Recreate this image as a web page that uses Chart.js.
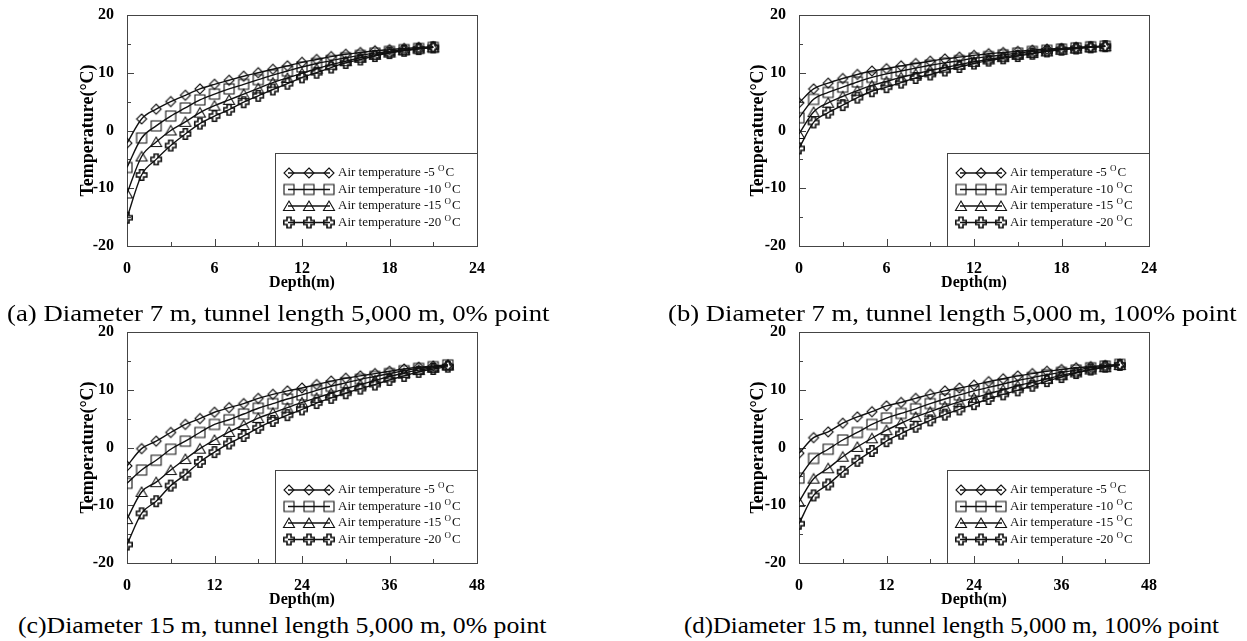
<!DOCTYPE html>
<html>
<head>
<meta charset="utf-8">
<script src="https://cdn.jsdelivr.net/npm/chart.js@4.4.1/dist/chart.umd.min.js"></script>
<style>
  html, body { margin: 0; padding: 0; background: #fff; }
  body { width: 1247px; height: 641px; position: relative; overflow: hidden; }
  canvas { position: absolute; }
  .caption {
    position: absolute;
    font-family: "Liberation Serif", "Times New Roman", serif;
    font-size: 24px;
    line-height: 1;
    color: #000;
    white-space: nowrap;
    transform-origin: 0 0;
  }
</style>
</head>
<body>
<canvas id="chart-a" width="430" height="292" style="left:60px;top:0px"></canvas>
<canvas id="chart-b" width="432" height="292" style="left:730px;top:0px"></canvas>
<canvas id="chart-c" width="430" height="292" style="left:60px;top:317px"></canvas>
<canvas id="chart-d" width="432" height="292" style="left:730px;top:317px"></canvas>

<div class="caption" data-w="543" style="left:7px;top:301px">(a) Diameter 7 m, tunnel length 5,000 m, 0% point</div>
<div class="caption" data-w="569" style="left:668px;top:301px">(b) Diameter 7 m, tunnel length 5,000 m, 100% point</div>
<div class="caption" data-w="529" style="left:18px;top:613px">(c)Diameter 15 m, tunnel length 5,000 m, 0% point</div>
<div class="caption" data-w="535" style="left:684px;top:613px">(d)Diameter 15 m, tunnel length 5,000 m, 100% point</div>

<script>
// Depth points (m)
const depthShort = [0, 1, 2, 3, 4, 5, 6, 7, 8, 9, 10, 11, 12, 13, 14, 15, 16, 17, 18, 19, 20, 21];
const depthLong = [0, 2, 4, 6, 8, 10, 12, 14, 16, 18, 20, 22, 24, 26, 28, 30, 32, 34, 36, 38, 40, 42, 44];

// Air temperature cases (deg C)
const airTemps = ["-5", "-10", "-15", "-20"];

// (a) Diameter 7 m, 0% point
const a5 = [-2.2, 2.0, 3.7, 5.0, 6.1, 7.2, 8.0, 8.7, 9.4, 10.0, 10.6, 11.2, 11.8, 12.3, 12.8, 13.2, 13.5, 13.8, 14.0, 14.2, 14.4, 14.5];
const a10 = [-6.4, -1.3, 0.8, 2.5, 3.9, 5.3, 6.3, 7.2, 8.0, 8.8, 9.6, 10.3, 11.0, 11.6, 12.1, 12.6, 13.0, 13.4, 13.7, 14.0, 14.2, 14.4];
const a15 = [-10.9, -4.5, -2.0, 0.0, 1.5, 3.1, 4.3, 5.3, 6.3, 7.3, 8.3, 9.1, 9.9, 10.7, 11.4, 12.0, 12.6, 13.1, 13.5, 13.9, 14.2, 14.4];
const a20 = [-15.1, -7.7, -5.0, -2.6, -0.6, 1.2, 2.5, 3.6, 4.9, 6.0, 7.1, 8.1, 9.2, 10.0, 10.9, 11.7, 12.3, 12.9, 13.4, 13.8, 14.1, 14.4];

// (b) Diameter 7 m, 100% point
const b5 = [4.8, 7.2, 8.2, 9.0, 9.7, 10.3, 10.7, 11.2, 11.6, 12.0, 12.4, 12.7, 13.0, 13.3, 13.5, 13.7, 13.9, 14.1, 14.2, 14.4, 14.5, 14.6];
const b10 = [2.2, 5.4, 6.6, 7.5, 8.4, 9.2, 9.8, 10.3, 10.8, 11.3, 11.7, 12.1, 12.5, 12.8, 13.1, 13.4, 13.7, 13.9, 14.1, 14.3, 14.5, 14.6];
const b15 = [-0.6, 3.2, 4.8, 5.9, 6.9, 7.8, 8.5, 9.2, 9.8, 10.4, 10.9, 11.4, 11.9, 12.3, 12.7, 13.1, 13.4, 13.7, 14.0, 14.2, 14.4, 14.6];
const b20 = [-3.1, 1.4, 3.1, 4.4, 5.7, 6.8, 7.5, 8.3, 9.1, 9.7, 10.4, 11.0, 11.6, 12.1, 12.5, 12.9, 13.3, 13.7, 14.0, 14.2, 14.4, 14.6];

// (c) Diameter 15 m, 0% point
const c5 = [-3.2, -0.2, 1.1, 2.6, 4.0, 5.0, 6.1, 6.9, 7.6, 8.5, 9.2, 9.8, 10.3, 10.9, 11.5, 12.0, 12.4, 12.8, 13.2, 13.6, 13.9, 14.1, 14.3];
const c10 = [-6.2, -3.9, -2.2, -0.3, 1.1, 2.6, 4.0, 4.8, 5.8, 6.8, 7.6, 8.4, 9.1, 9.9, 10.6, 11.2, 11.8, 12.3, 12.8, 13.3, 13.7, 14.0, 14.3];
const c15 = [-12.4, -7.7, -6.0, -3.9, -2.0, -0.2, 1.3, 2.7, 3.9, 5.1, 6.0, 6.9, 7.8, 8.6, 9.4, 10.2, 10.9, 11.6, 12.3, 12.9, 13.4, 13.8, 14.2];
const c20 = [-16.8, -11.4, -9.3, -6.6, -4.7, -2.5, -0.8, 0.7, 2.0, 3.4, 4.6, 5.6, 6.6, 7.7, 8.6, 9.4, 10.2, 10.9, 11.7, 12.4, 13.1, 13.6, 14.0];

// (d) Diameter 15 m, 100% point
const d5 = [-1.0, 1.7, 2.7, 4.2, 5.3, 6.2, 7.2, 7.8, 8.5, 9.2, 9.8, 10.3, 10.8, 11.4, 11.9, 12.4, 12.8, 13.2, 13.5, 13.8, 14.0, 14.2, 14.4];
const d10 = [-5.3, -1.9, -0.3, 1.3, 2.6, 4.0, 5.1, 5.9, 6.7, 7.6, 8.4, 9.1, 9.8, 10.4, 11.0, 11.6, 12.1, 12.6, 13.0, 13.4, 13.8, 14.1, 14.4];
const d15 = [-9.4, -5.4, -3.6, -1.6, 0.1, 1.6, 3.0, 4.2, 5.3, 6.2, 7.1, 7.9, 8.6, 9.3, 10.0, 10.7, 11.3, 11.9, 12.5, 13.0, 13.5, 13.9, 14.3];
const d20 = [-13.2, -8.3, -6.4, -4.2, -2.3, -0.6, 1.1, 2.4, 3.6, 4.7, 5.7, 6.6, 7.5, 8.4, 9.2, 9.9, 10.7, 11.5, 12.2, 12.9, 13.5, 14.0, 14.3];

const serif = "'Liberation Serif', 'Times New Roman', serif";
const tickFont = { family: serif, size: 16, weight: "bold" };

// Hollow marker shapes drawn once into small canvases
function makeMarker(kind) {
  const c = document.createElement("canvas");
  c.width = 14;
  c.height = 14;
  const g = c.getContext("2d");
  const m = 7;
  g.strokeStyle = "#111";
  g.lineWidth = 1.1;
  g.beginPath();
  if (kind === "diamond") {
    g.moveTo(m, m - 5); g.lineTo(m + 5, m); g.lineTo(m, m + 5); g.lineTo(m - 5, m);
  } else if (kind === "square") {
    g.rect(m - 5, m - 5, 10, 10);
  } else if (kind === "triangle") {
    g.moveTo(m, m - 5); g.lineTo(m + 5.5, m + 4.5); g.lineTo(m - 5.5, m + 4.5);
  } else {
    g.lineWidth = 1.6;
    const a = 2, b = 5.2;
    const pts = [[-a, -b], [a, -b], [a, -a], [b, -a], [b, a], [a, a], [a, b], [-a, b], [-a, a], [-b, a], [-b, -a], [-a, -a]];
    pts.forEach(([px, py], i) => (i ? g.lineTo(m + px, m + py) : g.moveTo(m + px, m + py)));
  }
  g.closePath();
  g.stroke();
  return c;
}
const markers = [makeMarker("diamond"), makeMarker("square"), makeMarker("triangle"), makeMarker("cross")];

// Frame around the plot plus inward major/minor ticks
const frameTicks = {
  id: "frameTicks",
  beforeDatasetsDraw(chart) {
    const { ctx, chartArea: a, scales } = chart;
    ctx.save();
    ctx.strokeStyle = "#444";
    ctx.lineWidth = 1;
    ctx.strokeRect(Math.round(a.left) + 0.5, Math.round(a.top) + 0.5, Math.round(a.right - a.left), Math.round(a.bottom - a.top));
    const xs = scales.x, ys = scales.y;
    const xStep = xs.options.ticks.stepSize / 2;
    ctx.beginPath();
    for (let i = 1; xs.min + i * xStep < xs.max; i++) {
      const px = Math.round(xs.getPixelForValue(xs.min + i * xStep)) + 0.5;
      const len = i % 2 === 0 ? 7 : 4;
      ctx.moveTo(px, a.bottom);
      ctx.lineTo(px, a.bottom - len);
    }
    const yStep = ys.options.ticks.stepSize / 2;
    for (let i = 1; ys.min + i * yStep < ys.max; i++) {
      const py = Math.round(ys.getPixelForValue(ys.min + i * yStep)) + 0.5;
      const len = i % 2 === 0 ? 7 : 4;
      ctx.moveTo(a.left, py);
      ctx.lineTo(a.left + len, py);
    }
    ctx.stroke();
    ctx.restore();
  },
};

// Boxed legend in the lower right, with superscript "O" before C
const airLegend = {
  id: "airLegend",
  afterDraw(chart) {
    const { ctx, chartArea: a } = chart;
    const boxL = Math.round(a.right - 202);
    const boxT = Math.round(a.top + 138);
    ctx.save();
    ctx.strokeStyle = "#444";
    ctx.lineWidth = 1;
    ctx.strokeRect(boxL + 0.5, boxT + 0.5, Math.round(a.right) - boxL, Math.round(a.bottom) - boxT);
    chart.data.datasets.forEach((ds, i) => {
      const y = boxT + 20 + i * 16.5;
      const x0 = boxL + 13;
      ctx.strokeStyle = "#111";
      ctx.lineWidth = 1.3;
      ctx.beginPath();
      ctx.moveTo(x0, y);
      ctx.lineTo(x0 + 42, y);
      ctx.stroke();
      [x0 + 1, x0 + 21, x0 + 41].forEach((mx) => {
        ctx.drawImage(markers[i], mx - 7, y - 7);
      });
      const tx = x0 + 50;
      ctx.fillStyle = "#111";
      ctx.textBaseline = "middle";
      ctx.font = "13px " + serif;
      const main = "Air temperature " + airTemps[i] + " ";
      ctx.fillText(main, tx, y);
      const w1 = ctx.measureText(main).width;
      ctx.font = "9px " + serif;
      ctx.fillText("O", tx + w1, y - 4);
      const w2 = ctx.measureText("O").width;
      ctx.font = "13px " + serif;
      ctx.fillText("C", tx + w1 + w2 + 1, y);
    });
    ctx.restore();
  },
};

function buildChart(id, depth, series, xMax, yAxisWidth) {
  const ctx = document.getElementById(id).getContext("2d");
  return new Chart(ctx, {
    type: "line",
    data: {
      datasets: series.map((vals, i) => ({
        label: "Air temperature " + airTemps[i] + " °C",
        data: vals.map((v, j) => ({ x: depth[j], y: v })),
        borderColor: "#111",
        borderWidth: 1.4,
        pointStyle: markers[i],
        pointRadius: 6,
        cubicInterpolationMode: "monotone",
        fill: false,
      })),
    },
    options: {
      responsive: false,
      animation: false,
      layout: { padding: { left: 18, top: 15, right: 11, bottom: 0 } },
      plugins: { legend: { display: false }, tooltip: { enabled: false } },
      scales: {
        x: {
          type: "linear",
          min: 0,
          max: xMax,
          ticks: { stepSize: xMax / 4, padding: 5, color: "#000", font: tickFont },
          grid: { display: false },
          border: { display: false },
          title: { display: true, text: "Depth(m)", color: "#000", padding: 0, font: { family: serif, size: 16, weight: "bold" } },
          afterFit: (s) => { s.height = 46; },
        },
        y: {
          min: -20,
          max: 20,
          ticks: { stepSize: 10, padding: 5, color: "#000", font: tickFont },
          grid: { display: false },
          border: { display: false },
          title: { display: true, text: "Temperature(°C)", color: "#000", padding: 0, font: { family: serif, size: 18, weight: "bold" } },
          afterFit: (s) => { s.width = yAxisWidth; },
        },
      },
    },
    plugins: [frameTicks, airLegend],
  });
}

buildChart("chart-a", depthShort, [a5, a10, a15, a20], 24, 49);
buildChart("chart-b", depthShort, [b5, b10, b15, b20], 24, 51);
buildChart("chart-c", depthLong, [c5, c10, c15, c20], 48, 49);
buildChart("chart-d", depthLong, [d5, d10, d15, d20], 48, 51);

// Stretch captions to the width they take in the figure
document.querySelectorAll(".caption").forEach((el) => {
  const target = parseFloat(el.dataset.w);
  el.style.transform = "scaleX(" + (target / el.offsetWidth).toFixed(3) + ")";
});
</script>
</body>
</html>
